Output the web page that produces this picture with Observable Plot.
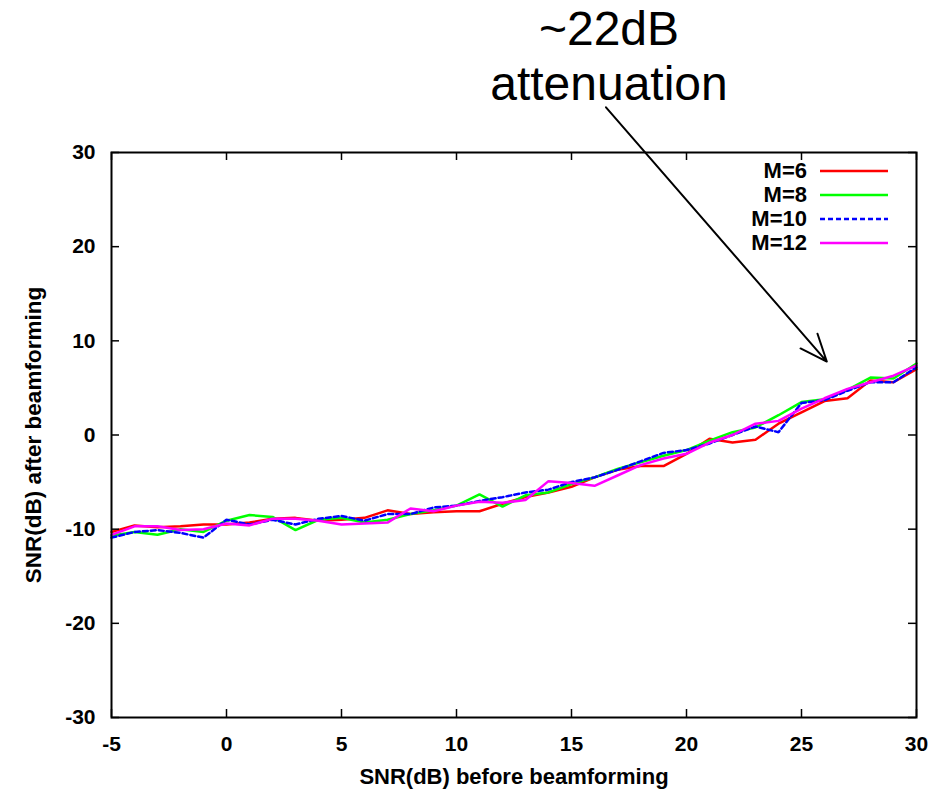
<!DOCTYPE html>
<html>
<head>
<meta charset="utf-8">
<script src="https://cdn.jsdelivr.net/npm/d3@7"></script>
<script src="https://cdn.jsdelivr.net/npm/@observablehq/plot@0.6"></script>
<style>
  body { margin: 0; background: #fff; }
  #wrap { position: relative; width: 944px; height: 791px; font-family: "Liberation Sans", Arial, sans-serif; }
  #wrap > svg { position: absolute; left: 0; top: 0; }
  .annot { position: absolute; left: 409px; width: 400px; top: 1px; text-align: center; font-size: 48px; line-height: 55px; color: #000; font-weight: normal; }
  .lg { position: absolute; left: 600px; width: 300px; height: 24px; display: flex; align-items: center; }
  .lg span { display: inline-block; width: 207px; text-align: right; font-weight: bold; font-size: 22px; color: #000; }
  #wrap .lg svg { position: static; margin-left: 13px; display: block; }
</style>
</head>
<body>
<div id="wrap"></div>
<script>
// x: SNR before beamforming (dB)
const snrIn = [-5,-4,-3,-2,-1,0,1,2,3,4,5,6,7,8,9,10,11,12,13,14,15,16,17,18,19,20,21,22,23,24,25,26,27,28,29,30];
// y: SNR after beamforming (dB)
const m6  = [-10.3,-9.6,-9.8,-9.7,-9.5,-9.5,-9.3,-8.9,-8.8,-9.1,-9.0,-8.8,-8.0,-8.4,-8.2,-8.1,-8.1,-7.3,-6.6,-6.1,-5.5,-4.5,-3.7,-3.3,-3.3,-2.0,-0.4,-0.8,-0.5,1.2,2.4,3.6,3.9,5.8,5.6,7.0];
const m8  = [-10.7,-10.3,-10.6,-10.0,-10.3,-9.1,-8.5,-8.7,-10.1,-9.0,-8.8,-9.3,-9.0,-8.4,-8.0,-7.5,-6.3,-7.6,-6.4,-6.1,-5.2,-4.5,-3.6,-2.9,-2.2,-1.6,-0.6,0.3,0.8,2.1,3.5,3.8,4.8,6.1,6.0,7.6];
const m10 = [-10.9,-10.3,-10.1,-10.4,-10.9,-9.0,-9.5,-9.0,-9.5,-8.9,-8.6,-9.1,-8.4,-8.4,-7.7,-7.5,-7.0,-6.6,-6.1,-5.8,-5.0,-4.5,-3.7,-2.8,-1.9,-1.6,-0.9,0.0,0.9,0.3,3.4,3.7,4.7,5.6,5.6,7.2];
const m12 = [-10.6,-9.7,-9.7,-10.1,-10.0,-9.4,-9.6,-8.9,-8.9,-9.1,-9.5,-9.4,-9.3,-7.8,-8.1,-7.5,-7.1,-7.2,-6.9,-4.9,-5.1,-5.4,-4.3,-3.2,-2.5,-2.0,-0.8,0.0,1.2,1.5,2.8,3.9,4.9,5.6,6.3,7.4];

const seriesNames = ["M=6", "M=8", "M=10", "M=12"];
const seriesValues = [m6, m8, m10, m12];
const seriesColors = ["#ff0000", "#00ff00", "#0000ff", "#ff00ff"];
const seriesDash = [null, null, "5,3", null];

const xTicks = [-5, 0, 5, 10, 15, 20, 25, 30];
const yTicks = [-30, -20, -10, 0, 10, 20, 30];

const xLabel = "SNR(dB) before beamforming";
const yLabel = "SNR(dB) after beamforming";
const annotText = ["~22dB", "attenuation"];
// arrow from the annotation to the curves (data units)
const annotArrow = [{x1: 16.5, y1: 34.8, x2: 26.1, y2: 7.8}];

const W = 944, H = 791;
const mL = 111, mR = 28, mT = 152, mB = 74;
const frameW = W - mL - mR, frameH = H - mT - mB;
const tickLen = 8;
const fmt = d => String(d); // plain hyphen-minus like the original

const lineMarks = seriesNames.map((name, i) => {
  const data = snrIn.map((x, j) => ({x, y: seriesValues[i][j]}));
  return Plot.line(data, {
    x: "x", y: "y",
    stroke: seriesColors[i],
    strokeWidth: 2.5,
    strokeDasharray: seriesDash[i] ?? undefined,
    strokeLinejoin: "miter"
  });
});

const chart = Plot.plot({
  width: W, height: H,
  marginLeft: mL, marginRight: mR, marginTop: mT, marginBottom: mB,
  x: {domain: [-5, 30]},
  y: {domain: [-30, 30]},
  style: {fontFamily: "'Liberation Sans', Arial, sans-serif", fontSize: "21px", fontWeight: "bold", color: "#000", background: "transparent", overflow: "visible"},
  marks: [
    ...lineMarks,
    Plot.tickX(xTicks, {x: d => d, insetTop: frameH - tickLen, stroke: "#000", strokeWidth: 1.5}),
    Plot.tickX(xTicks, {x: d => d, insetBottom: frameH - tickLen, stroke: "#000", strokeWidth: 1.5}),
    Plot.tickY(yTicks, {y: d => d, insetRight: frameW - tickLen, stroke: "#000", strokeWidth: 1.5}),
    Plot.tickY(yTicks, {y: d => d, insetLeft: frameW - tickLen, stroke: "#000", strokeWidth: 1.5}),
    Plot.frame({stroke: "#000", strokeWidth: 2}),
    Plot.axisX(xTicks, {tickSize: 0, tickPadding: 19, fontSize: 21, fontWeight: "bold", tickFormat: fmt, label: null}),
    Plot.axisY(yTicks, {tickSize: 0, tickPadding: 16, fontSize: 21, fontWeight: "bold", tickFormat: fmt, label: null}),
    Plot.text([xLabel], {text: d => d, frameAnchor: "bottom", textAnchor: "middle", dy: 59, fontSize: 22, fontWeight: "bold", lineAnchor: "middle"}),
    Plot.text([yLabel], {text: d => d, frameAnchor: "left", textAnchor: "middle", dx: -78, rotate: -90, fontSize: 22.5, fontWeight: "bold", lineAnchor: "middle"}),
    Plot.arrow(annotArrow, {x1: "x1", y1: "y1", x2: "x2", y2: "y2", stroke: "#000", strokeWidth: 2, headLength: 22, headAngle: 45, bend: 0})
  ]
});

const wrap = document.getElementById("wrap");
wrap.appendChild(chart);

const annot = document.createElement("div");
annot.className = "annot";
annot.innerHTML = annotText.map(t => `<div>${t}</div>`).join("");
wrap.appendChild(annot);

const legendTop = 171; // centre of first row (px)
seriesNames.forEach((name, i) => {
  const row = document.createElement("div");
  row.className = "lg";
  row.style.top = (legendTop + i * 24 - 12) + "px";
  const dash = seriesDash[i] ? `stroke-dasharray="${seriesDash[i]}"` : "";
  row.innerHTML = `<span>${name}</span><svg width="68" height="6"><line x1="0" y1="3" x2="68" y2="3" stroke="${seriesColors[i]}" stroke-width="2.5" ${dash}/></svg>`;
  wrap.appendChild(row);
});
</script>
</body>
</html>
